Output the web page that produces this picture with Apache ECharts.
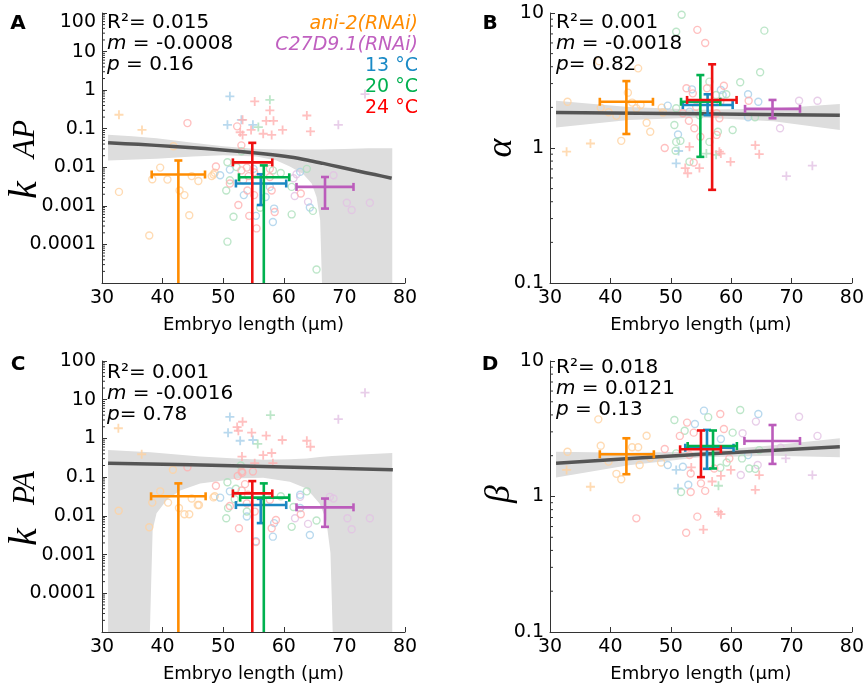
<!DOCTYPE html>
<html><head><meta charset="utf-8">
<script src="https://cdn.jsdelivr.net/npm/echarts@6/dist/echarts.min.js"></script>
<style>html,body{margin:0;padding:0;background:#fff}#c{width:867px;height:687px}</style>
</head><body><div id="c"></div>
<script>
// ---------- axis ticks ----------
const xTicks = [30, 40, 50, 60, 70, 80];
const kTickLabels = {'2':'100','1':'10','0':'1','-1':'0.1','-2':'0.01','-3':'0.001','-4':'0.0001','-5':''};
const abTickLabels = {'1':'10','0':'1','-1':'0.1'};
const minorMult = [2,3,4,5,6,7,8,9];
const kDecades = [-5,-4,-3,-2,-1,0,1];
const abDecades = [-1,0];

// ---------- Panel A (k_AP) ----------
const aOrangeO = [[41.8,0.035],[39.6,0.0098],[38.3,0.0049],[40.8,0.0048],[44.8,0.0059],[45.9,0.0044],[42.8,0.0025],[43.6,0.0019],[32.8,0.0023],[44.4,0.00057],[37.8,0.00017],[48.4,0.0065],[48.6,0.0072],[48.1,0.0059]];
const aOrangeP = [[32.8,0.23],[36.6,0.093]];
const aPurpleO = [[61.6,0.0052],[61.8,0.0018],[64.0,0.00127],[68.2,0.0062],[70.4,0.0012],[71.2,0.00078],[74.2,0.0012],[62.1,0.0066]];
const aPurpleP = [[73.4,0.79],[69.0,0.126]];
const aBlueO = [[51.1,0.0087],[49.5,0.0062],[53.4,0.0019],[55.4,0.00055],[58.2,0.00038],[58.4,0.00085],[64.3,0.00091],[62.7,0.0076],[57.0,0.0017],[57.7,0.0031],[55.0,0.0091]];
const aBlueP = [[51.1,0.69],[50.7,0.126],[53.0,0.17],[54.9,0.126]];
const aGreenO = [[50.7,0.0135],[53.0,0.026],[50.5,0.0025],[51.7,0.00052],[50.7,0.000118],[61.3,0.0006],[64.8,0.00074],[65.4,0.0000224],[63.8,0.0091],[61.3,0.0031],[59.5,0.0071],[56.1,0.00089],[52.2,0.0102],[51.1,0.0046],[58.2,0.0083]];
const aGreenP = [[57.7,0.56],[55.8,0.11]];
const aRedO = [[44.1,0.14],[52.3,0.115],[53.0,0.037],[48.8,0.0105],[51.1,0.0038],[52.5,0.00105],[54.3,0.00055],[55.5,0.00026],[58.5,0.00069],[62.8,0.0021],[53.0,0.0083],[53.9,0.0098],[54.2,0.0059],[53.3,0.0046],[55.1,0.0074],[54.0,0.0025],[55.1,0.0019],[58.0,0.0025],[57.7,0.0091],[57.7,0.0056]];
const aRedP = [[55.2,0.51],[57.7,0.30],[57.1,0.16],[58.3,0.16],[54.6,0.093],[56.6,0.074],[58.0,0.069],[59.8,0.093],[63.8,0.22],[64.4,0.085],[53.2,0.17],[52.8,0.081],[53.2,0.069]];
// error bars: [x, y, xLow, xHigh, yLow (0 = below axis), yHigh]
const aErr = [
  [42.6, 0.0065, 38.2, 47.0, 0, 0.015],
  [66.8, 0.0031, 62.1, 71.5, 0.00085, 0.0056],
  [56.2, 0.0038, 52.1, 60.4, 0.00105, 0.0066],
  [56.7, 0.0055, 52.6, 60.9, 0, 0.0112],
  [54.8, 0.0134, 51.6, 58.1, 0, 0.043]
];
const aFitX = [31, 36, 41.8, 47, 52.8, 57, 61, 64, 66.5, 69, 72, 75, 77.8];
const aFitY = [0.0433, 0.0393, 0.0347, 0.0305, 0.0258, 0.0222, 0.0185, 0.0153, 0.0126, 0.0103, 0.0081, 0.0065, 0.0052];
const aBandUpX = [31, 35, 39, 45, 50, 55.5, 61, 66, 70, 74, 77.9];
const aBandUpY = [0.070, 0.064, 0.057, 0.043, 0.035, 0.030, 0.029, 0.029, 0.030, 0.031, 0.031];
const aBandLoX = [31, 39, 45, 50, 55.5, 58.8, 61, 63.2, 64.6, 65.4, 66.0, 66.3, 77.9];
const aBandLoY = [0.015, 0.0166, 0.019, 0.0205, 0.019, 0.015, 0.0105, 0.0067, 0.0038, 0.0017, 0.00043, 0.00001, 0.00001];

// ---------- Panel B (alpha) ----------
const bOrangeO = [[32.9,2.2],[38.4,1.99],[39.7,1.84],[41.0,1.73],[42.9,2.57],[43.6,2.17],[44.3,1.97],[45.0,2.08],[46.0,1.54],[46.6,1.32],[41.8,1.13],[38.1,4.4],[44.6,3.89],[48.5,1.99],[48.7,1.83]];
const bOrangeP = [[32.75,0.94],[36.7,1.08]];
const bPurpleO = [[71.25,2.24],[74.3,2.24],[68.1,1.40]];
const bPurpleP = [[73.45,0.74],[69.15,0.62]];
const bBlueO = [[49.5,2.06],[53.5,2.72],[58.3,2.69],[58.6,2.47],[62.8,2.5],[64.5,2.2],[62.8,1.69],[51.2,1.26],[53.1,1.86]];
const bBlueP = [[51.3,0.95],[50.9,0.77]];
const bGreenO = [[51.8,9.7],[50.9,7.26],[65.5,7.4],[64.8,3.64],[61.5,3.07],[56.4,3.1],[57.5,2.47],[59.2,2.5],[50.9,1.97],[50.6,1.48],[51.6,1.13],[57.8,1.32],[60.25,1.36],[63.95,1.69],[54.75,1.75],[50.9,1.11],[50.8,0.955],[53.1,0.79],[56.4,1.11]];
const bGreenP = [[55.9,0.91],[57.5,0.89]];
const bRedO = [[54.4,7.5],[55.7,6.0],[49.0,1.0],[52.6,2.77],[53.0,1.59],[53.9,1.40],[58.8,2.89],[58.05,1.66],[62.9,2.24],[54.2,2.02],[53.65,2.54],[52.0,1.81],[56.0,2.77],[58.2,2.2],[57.6,1.81],[54.9,1.21],[57.6,1.25],[53.8,0.78]];
const bRedP = [[53.1,1.02],[52.4,0.71],[52.8,0.65],[54.75,0.71],[58.05,0.94],[59.9,0.79],[64.0,1.05],[64.65,0.90],[58.3,0.91]];
const bErr = [
  [42.65, 2.20, 38.25, 47.05, 1.27, 3.13],
  [66.85, 1.95, 62.3, 71.4, 1.66, 2.27],
  [56.1, 2.08, 52.0, 60.25, 1.75, 2.5],
  [54.9, 2.20, 51.7, 58.2, 0.86, 3.47],
  [56.85, 2.27, 52.7, 60.9, 0.49, 4.17]
];
const bFitX = [31, 55, 78];
const bFitY = [1.83, 1.79, 1.745];
const bBandUpX = [31, 43, 55, 67, 78];
const bBandUpY = [2.24, 2.01, 1.92, 1.96, 2.12];
const bBandLoX = [31, 43, 55, 67, 78];
const bBandLoY = [1.42, 1.61, 1.68, 1.58, 1.36];

// ---------- Panel C (k_PA) ----------
const cOrangeO = [[41.7,0.155],[39.6,0.043],[38.3,0.022],[40.9,0.022],[44.8,0.028],[46.0,0.019],[42.7,0.016],[43.6,0.011],[44.4,0.011],[45.8,0.019],[37.8,0.0051],[32.75,0.0135],[48.4,0.030],[48.6,0.032]];
const cOrangeP = [[32.7,1.83],[36.55,0.39]];
const cPurpleO = [[62.7,0.031],[67.6,0.031],[61.85,0.0087],[64.0,0.0062],[68.2,0.028],[70.5,0.0087],[71.2,0.0045],[74.2,0.0087]];
const cPurpleP = [[73.4,15.2],[69.0,3.14]];
const cBlueO = [[49.5,0.0295],[51.1,0.043],[53.9,0.0096],[55.4,0.0022],[58.2,0.0029],[64.3,0.0032],[58.4,0.0065],[62.7,0.035],[62.7,0.016]];
const cBlueP = [[51.1,3.6],[50.8,1.41],[52.8,0.87],[54.9,0.91]];
const cGreenO = [[50.7,0.074],[52.9,0.20],[52.1,0.050],[63.8,0.043],[50.5,0.0087],[61.3,0.0052],[65.4,0.0076],[51.9,0.027],[50.8,0.016],[53.9,0.013],[59.5,0.032],[61.6,0.017]];
const cGreenP = [[57.8,4.0],[55.7,0.72]];
const cRedO = [[44.1,0.18],[52.4,0.107],[53.05,0.14],[48.8,0.060],[53.6,0.066],[53.15,0.13],[54.9,0.14],[51.1,0.018],[52.6,0.0048],[55.4,0.0021],[58.0,0.0048],[58.7,0.0078],[62.8,0.011],[53.05,0.045],[54.1,0.035],[53.9,0.021],[55.2,0.0129],[57.7,0.026]];
const cRedP = [[53.2,2.7],[52.3,1.96],[52.5,1.58],[54.7,1.41],[57.1,1.18],[59.75,0.91],[63.8,0.87],[64.4,0.61],[53.1,0.34],[56.6,0.37],[58.0,0.42],[55.2,0.23],[58.2,0.23]];
const cErr = [
  [42.6, 0.032, 38.1, 47.1, 0, 0.069],
  [66.8, 0.0166, 62.1, 71.5, 0.0052, 0.028],
  [56.2, 0.019, 52.1, 60.4, 0.0065, 0.0275],
  [56.7, 0.0295, 52.8, 60.9, 0, 0.069],
  [54.8, 0.038, 51.6, 58.1, 0, 0.079]
];
const cFitX = [31, 55, 78];
const cFitY = [0.23, 0.192, 0.155];
const cBandUpX = [31, 38, 46.2, 52.8, 56.6, 61, 63.75, 65.9, 68, 72, 77.9];
const cBandUpY = [0.50, 0.44, 0.342, 0.297, 0.281, 0.288, 0.305, 0.329, 0.35, 0.38, 0.42];
const cBandLoX = [31, 37.9, 38.1, 38.36, 39.0, 40.7, 42.9, 46.2, 52.8, 56.6, 61, 63.75, 65.9, 67.0, 67.7, 68.07, 77.9];
const cBandLoY = [0.00001, 0.00001, 0.00015, 0.0044, 0.0117, 0.026, 0.045, 0.069, 0.093, 0.097, 0.076, 0.051, 0.021, 0.0078, 0.0011, 0.00001, 0.00001];

// ---------- Panel D (beta) ----------
const dOrangeO = [[32.9,2.14],[38.4,2.37],[39.7,1.81],[41.0,1.47],[41.8,1.34],[43.6,2.31],[44.6,2.31],[44.85,1.71],[46.0,2.81],[38.0,3.71],[46.6,1.93],[48.4,1.78]];
const dOrangeP = [[32.75,1.57],[36.7,1.18]];
const dPurpleO = [[71.25,3.88],[64.1,3.57],[61.9,2.93],[74.3,2.80],[61.6,1.44],[64.4,1.71],[68.2,2.29]];
const dPurpleP = [[69.05,1.91],[73.45,1.44]];
const dBlueO = [[55.5,4.3],[64.5,4.06],[54.0,3.43],[58.3,2.66],[49.5,1.71],[52.0,1.66],[62.8,2.02],[52.9,1.22]];
const dBlueP = [[50.9,1.57],[51.2,1.15]];
const dGreenO = [[50.6,3.67],[56.2,3.85],[61.5,4.35],[52.3,3.06],[60.25,2.96],[50.9,2.08],[51.7,1.08],[58.2,1.63],[61.8,1.91],[63.0,1.61],[64.0,1.60],[64.65,2.20],[59.25,1.78]];
const dGreenP = [[57.9,1.20]];
const dRedO = [[49.0,2.24],[51.5,2.80],[52.7,3.51],[53.8,2.96],[58.2,4.06],[58.8,3.15],[53.1,2.02],[53.3,1.48],[55.0,1.25],[53.3,1.08],[55.7,1.10],[44.3,0.69],[54.4,0.71],[52.55,0.54],[57.2,1.61],[59.7,1.91]];
const dRedP = [[53.4,1.64],[56.85,1.29],[58.3,1.42],[59.95,1.57],[64.65,1.44],[64.0,1.12],[57.9,0.77],[58.3,0.74],[55.4,0.57]];
const dErr = [
  [42.65, 2.05, 38.25, 47.2, 1.46, 2.69],
  [66.85, 2.57, 62.2, 71.4, 1.74, 3.37],
  [56.0, 2.29, 52.4, 60.4, 1.60, 3.10],
  [57.0, 2.36, 52.8, 60.95, 1.61, 3.07],
  [55.0, 2.23, 51.55, 58.3, 1.39, 3.07]
];
const dFitX = [31, 55, 78];
const dFitY = [1.76, 2.05, 2.33];
const dBandUpX = [31, 43, 55, 67, 78];
const dBandUpY = [2.14, 2.10, 2.15, 2.39, 2.69];
const dBandLoX = [31, 43, 55, 67, 78];
const dBandLoY = [1.38, 1.70, 1.95, 2.00, 1.95];

// ---------- style ----------
const errColors = ['#ff8c00', '#bb5cbb', '#1b88c2', '#00b14f', '#ee1111'];
const fadedColors = {orange:'#ffd2a0', purple:'#e2c2e4', blue:'#a8cfea', green:'#ade0bb', red:'#ffb0b0'};
const PLUS = 'path://M4,0H6V10H4ZM0,4H10V6H0Z';
const FONT = 'DejaVu Sans';

const grids = [
  {left:102, top:13, width:303, height:270},
  {left:550, top:13, width:303, height:270},
  {left:102, top:361, width:303, height:271},
  {left:550, top:361, width:303, height:271}
];

const panels = [
  {groups:[['orange',aOrangeO,aOrangeP],['purple',aPurpleO,aPurpleP],['blue',aBlueO,aBlueP],['green',aGreenO,aGreenP],['red',aRedO,aRedP]], err:aErr, fit:[aFitX,aFitY], band:[aBandUpX,aBandUpY,aBandLoX,aBandLoY], min:0.00001, max:100, labels:kTickLabels, decades:kDecades, topLabel:'top'},
  {groups:[['orange',bOrangeO,bOrangeP],['purple',bPurpleO,bPurpleP],['blue',bBlueO,bBlueP],['green',bGreenO,bGreenP],['red',bRedO,bRedP]], err:bErr, fit:[bFitX,bFitY], band:[bBandUpX,bBandUpY,bBandLoX,bBandLoY], min:0.1, max:10, labels:abTickLabels, decades:abDecades},
  {groups:[['orange',cOrangeO,cOrangeP],['purple',cPurpleO,cPurpleP],['blue',cBlueO,cBlueP],['green',cGreenO,cGreenP],['red',cRedO,cRedP]], err:cErr, fit:[cFitX,cFitY], band:[cBandUpX,cBandUpY,cBandLoX,cBandLoY], min:0.00001, max:100, labels:kTickLabels, decades:kDecades},
  {groups:[['orange',dOrangeO,dOrangeP],['purple',dPurpleO,dPurpleP],['blue',dBlueO,dBlueP],['green',dGreenO,dGreenP],['red',dRedO,dRedP]], err:dErr, fit:[dFitX,dFitY], band:[dBandUpX,dBandUpY,dBandLoX,dBandLoY], min:0.1, max:10, labels:abTickLabels, decades:abDecades}
];

const xAxes = [], yAxes = [], series = [];
panels.forEach((p, i) => {
  xAxes.push({
    type:'value', gridIndex:i, min:xTicks[0], max:xTicks[xTicks.length-1], interval:10,
    name:'Embryo length (μm)', nameLocation:'middle', nameGap:33,
    nameTextStyle:{fontFamily:FONT, fontSize:18, color:'#000'},
    axisLine:{lineStyle:{color:'#333', width:1}},
    axisTick:{inside:true, length:5, lineStyle:{color:'#333'}},
    axisLabel:{fontFamily:FONT, fontSize:19, color:'#000', margin:6},
    splitLine:{show:false}
  });
  const yLabel = {fontFamily:FONT, fontSize:19, color:'#000', margin:6,
      formatter: v => { const k = String(Math.round(Math.log10(v))); return p.labels[k] !== undefined ? p.labels[k] : ''; }};
  if (p.topLabel) yLabel.verticalAlignMaxLabel = p.topLabel;
  yAxes.push({
    type:'log', logBase:10, gridIndex:i, min:p.min, max:p.max, splitNumber:Math.round(Math.log10(p.max/p.min)),
    axisLine:{show:true, lineStyle:{color:'#333', width:1}},
    axisTick:{show:true, inside:true, length:5, lineStyle:{color:'#333'}},
    axisLabel:yLabel,
    splitLine:{show:false}
  });
  // confidence band
  const [ux, uy, lx, ly] = p.band;
  series.push({
    type:'custom', xAxisIndex:i, yAxisIndex:i, data:[[55, 1]], silent:true, z:1, animation:false,
    renderItem:(params, api) => {
      const pts = [];
      ux.forEach((x, k) => pts.push(api.coord([x, uy[k]])));
      for (let k = lx.length - 1; k >= 0; k--) pts.push(api.coord([lx[k], ly[k]]));
      return {type:'polygon', shape:{points:pts}, style:{fill:'#dddddd'}};
    }
  });
  // minor ticks
  const minorData = [];
  p.decades.forEach(d => minorMult.forEach(m => minorData.push([xTicks[0], m * Math.pow(10, d)])));
  series.push({
    type:'custom', xAxisIndex:i, yAxisIndex:i, data:minorData, silent:true, z:5, animation:false,
    renderItem:(params, api) => {
      const pt = api.coord([api.value(0), api.value(1)]);
      return {type:'line', shape:{x1:pt[0], y1:pt[1], x2:pt[0]+3, y2:pt[1]}, style:{stroke:'#333', lineWidth:1}};
    }
  });
  // scatter points
  p.groups.forEach(g => {
    const col = fadedColors[g[0]];
    series.push({type:'scatter', xAxisIndex:i, yAxisIndex:i, data:g[1], symbol:'circle', symbolSize:7,
      itemStyle:{color:'rgba(255,255,255,0)', borderColor:col, borderWidth:1.4}, silent:true, z:2, animation:false});
    series.push({type:'scatter', xAxisIndex:i, yAxisIndex:i, data:g[2], symbol:PLUS, symbolSize:9,
      itemStyle:{color:col}, silent:true, z:2, animation:false});
  });
  // fit line
  series.push({type:'line', xAxisIndex:i, yAxisIndex:i, data:p.fit[0].map((x, k) => [x, p.fit[1][k]]),
    symbol:'none', smooth:0.3, lineStyle:{color:'#555555', width:3.5}, silent:true, z:3, animation:false});
  // error bars
  series.push({
    type:'custom', xAxisIndex:i, yAxisIndex:i, silent:true, z:4, animation:false,
    encode:{x:0, y:1},
    data:p.err.map((e, k) => ({value:e, itemStyle:{color:errColors[k]}})),
    renderItem:(params, api) => {
      const x = api.value(0), y = api.value(1), xl = api.value(2), xh = api.value(3), yl = api.value(4), yh = api.value(5);
      const cs = params.coordSys;
      const c = api.coord([x, y]), l = api.coord([xl, y]), h = api.coord([xh, y]), t = api.coord([x, yh]);
      const clipped = !(yl > 0);
      const b = clipped ? [c[0], cs.y + cs.height] : api.coord([x, yl]);
      const color = api.visual('color');
      const st = {stroke:color, lineWidth:2.6};
      const cap = 4;
      const ln = (x1, y1, x2, y2) => ({type:'line', shape:{x1, y1, x2, y2}, style:st});
      const ch = [ln(l[0], c[1], h[0], c[1]), ln(l[0], c[1]-cap, l[0], c[1]+cap), ln(h[0], c[1]-cap, h[0], c[1]+cap),
                  ln(c[0], t[1], c[0], b[1]), ln(c[0]-cap, t[1], c[0]+cap, t[1])];
      if (!clipped) ch.push(ln(c[0]-cap, b[1], c[0]+cap, b[1]));
      return {type:'group', children:ch};
    }
  });
});

// ---------- texts ----------
function txt(x, y, text, o) {
  o = o || {};
  return {type:'text', x, y, rotation:o.rot || 0, silent:true, z:10,
    style:{text, fill:o.color || '#000', fontSize:o.size || 20, fontFamily:o.family || FONT,
      fontStyle:o.style || 'normal', fontWeight:o.weight || 'normal',
      align:o.align || 'left', verticalAlign:o.va || 'middle', textAlign:o.align || 'left', textVerticalAlign:o.va || 'middle',
      rich:o.rich}};
}
function statLine(x, y, it, rest) {
  const base = {fontSize:20, fontFamily:FONT, fill:'#000'};
  return txt(x, y, '{i|' + it + '}{n|' + rest + '}', {rich:{i:Object.assign({fontStyle:'italic'}, base), n:Object.assign({}, base)}});
}
const statsA = ['R²= 0.015', ' = -0.0008', ' = 0.16'];
const statsB = ['R²= 0.001', ' = -0.0018', '= 0.82'];
const statsC = ['R²= 0.001', ' = -0.0016', '= 0.78'];
const statsD = ['R²= 0.018', ' = 0.0121', ' = 0.13'];
const legendTexts = [['ani-2(RNAi)', '#ff8c00', true], ['C27D9.1(RNAi)', '#c060c0', true], ['13 °C', '#1a8ac6', false], ['20 °C', '#00b050', false], ['24 °C', '#ff0000', false]];

const graphic = [];
[['A', 18, 24], ['B', 490, 24], ['C', 18, 365], ['D', 490, 365]].forEach(a => graphic.push(txt(a[1], a[2], a[0], {weight:'bold', size:20, align:'center'})));
[[statsA, 107, 23], [statsB, 556, 23], [statsC, 107, 373], [statsD, 556, 368]].forEach(s => {
  graphic.push(txt(s[1], s[2], s[0][0]));
  graphic.push(statLine(s[1], s[2] + 21, 'm', s[0][1]));
  graphic.push(statLine(s[1], s[2] + 42, 'p', s[0][2]));
});
legendTexts.forEach((l, k) => graphic.push(txt(418, 24 + k * 21, l[0], {color:l[1], style:l[2] ? 'italic' : 'normal', size:19, align:'right'})));
// y-axis names (rotated)
const SERIF = 'Liberation Serif';
graphic.push(txt(45, 199, 'k', {rot:Math.PI/2, size:40, family:SERIF, style:'italic', va:'bottom'}));
graphic.push(txt(41, 158, 'AP', {rot:Math.PI/2, size:31, family:SERIF, style:'italic', va:'bottom'}));
graphic.push(txt(45, 546, 'k', {rot:Math.PI/2, size:40, family:SERIF, style:'italic', va:'bottom'}));
graphic.push(txt(41, 505, 'PA', {rot:Math.PI/2, size:31, family:SERIF, style:'italic', va:'bottom'}));
graphic.push(txt(502, 148, 'α', {rot:Math.PI/2, size:36, family:SERIF, style:'italic', va:'middle', align:'center'}));
graphic.push(txt(500, 494, 'β', {rot:Math.PI/2, size:36, family:SERIF, style:'italic', va:'middle', align:'center'}));

const chart = echarts.init(document.getElementById('c'), null, {renderer:'canvas'});
chart.setOption({
  animation:false,
  backgroundColor:'#fff',
  grid:grids,
  xAxis:xAxes,
  yAxis:yAxes,
  series:series,
  graphic:graphic
});
</script></body></html>
